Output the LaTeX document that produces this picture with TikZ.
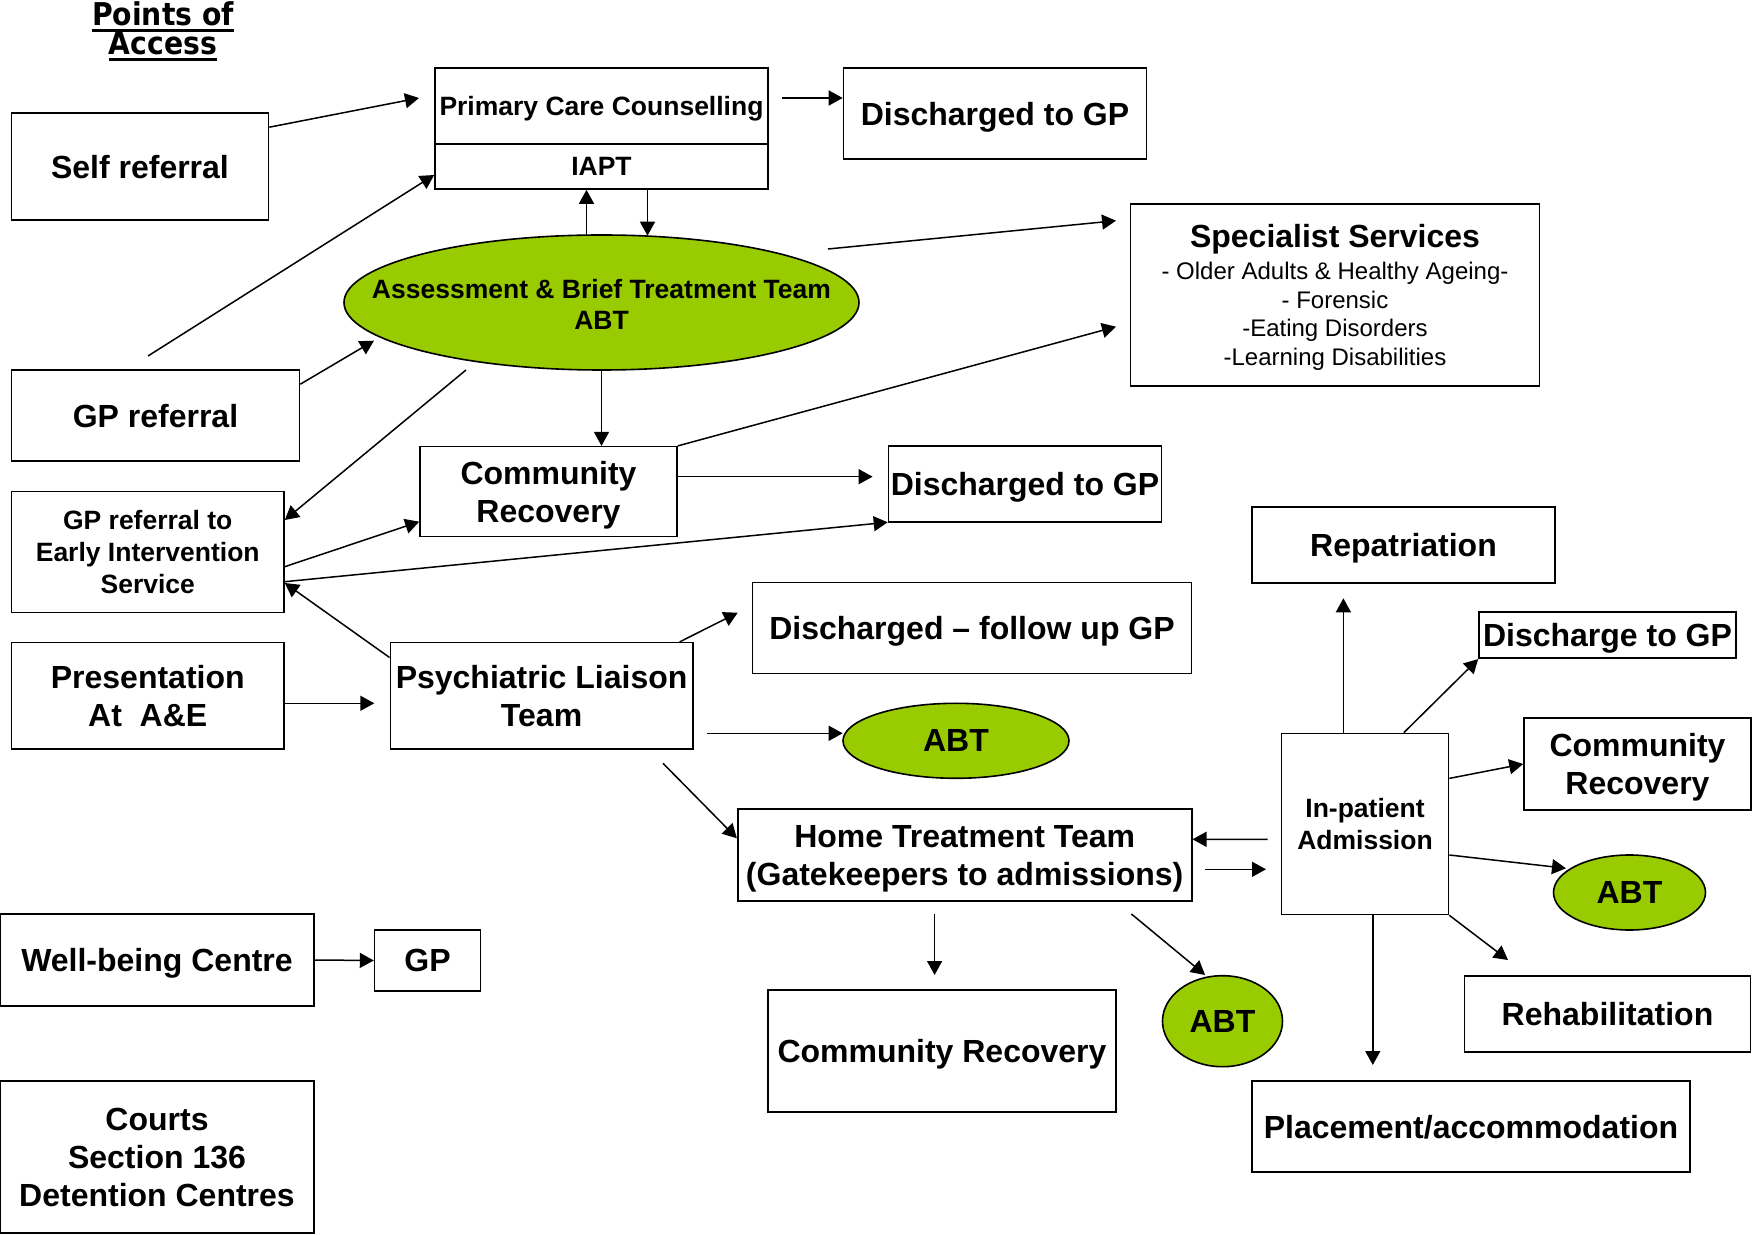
\documentclass[tikz,border=0pt]{standalone}
\usepackage{fontspec}
\setmainfont{Liberation Sans}
\newfontfamily\titlefont[FakeStretch=0.9]{DejaVu Sans}
\usetikzlibrary{arrows.meta,calc,shapes.geometric}
\definecolor{abtgreen}{RGB}{153,204,0}
\newcommand\itemfont{\mdseries\fontsize{12}{14.4}\selectfont}
\newcommand\titleul[1]{\setbox0\hbox{#1}\rlap{\rule[-3.15pt]{\wd0}{1.4pt}}\box0}
\begin{document}
\begin{tikzpicture}[x=0.5pt,y=-0.5pt,
  box/.style={draw, line width=0.8pt, align=center, inner sep=0pt, text depth=-2pt, font=\bfseries\fontsize{16}{19}\selectfont},
  sbox/.style={box, font=\bfseries\fontsize{13.25}{16}\selectfont},
  oval/.style={ellipse, draw, fill=abtgreen, line width=0.8pt, inner sep=0pt, text depth=-1.5pt, align=center, font=\bfseries\fontsize{16}{19}\selectfont},
  ttl/.style={anchor=base, inner sep=0pt, font=\titlefont\bfseries\fontsize{15.7}{15}\selectfont},
  arr/.style={-{Triangle[length=7pt,width=7.5pt]}, line width=0.75pt}]
\useasboundingbox (0,0) rectangle (1753,1235);

% title
\node[ttl] (title1) at (163,26) {\titleul{Points of}};
\node[ttl] (title2) at (163,55) {\titleul{Access}};

% nodes
\node[box, minimum width=128.5pt, minimum height=53.5pt] (selfref) at (140,166.5) {Self referral};
\node[sbox, minimum width=166.5pt, minimum height=38pt] (pcc) at (601.5,106) {Primary Care Counselling};
\node[sbox, minimum width=166.5pt, minimum height=22.5pt] (iapt) at (601.5,166.5) {IAPT};
\node[box, minimum width=151.5pt, minimum height=45.5pt] (dgp1) at (995,113.5) {Discharged to GP};
\node[oval, minimum width=257.5pt, minimum height=67.5pt,
  label={[align=center, inner sep=0pt, yshift=-1pt, font=\bfseries\fontsize{13.25}{15.7}\selectfont]center:Assessment \& Brief Treatment Team\\ABT}] (abt) at (601.5,302.5) {};
\node[box, minimum width=204.5pt, minimum height=91pt, font=\itemfont] (spec) at (1335,295) {{\bfseries\fontsize{16}{19}\selectfont Specialist Services}\\[1.6pt]- Older Adults \& Healthy Ageing-\\- Forensic\\-Eating Disorders\\-Learning Disabilities};
\node[box, minimum width=144pt, minimum height=45.5pt] (gpref) at (155.5,415.5) {GP referral};
\node[sbox, minimum width=136.25pt, minimum height=60.5pt] (eis) at (147.75,552) {GP referral to\\Early Intervention\\Service};
\node[box, minimum width=128.5pt, minimum height=45pt] (cr1) at (548.5,491.7) {Community\\Recovery};
\node[box, minimum width=136.5pt, minimum height=38pt] (dgp2) at (1025,484) {Discharged to GP};
\node[box, minimum width=151.5pt, minimum height=38pt] (rep) at (1403.5,545) {Repatriation};
\node[box, minimum width=219.5pt, minimum height=45.5pt] (dfu) at (972,628) {Discharged – follow up GP};
\node[box, minimum width=128.5pt, minimum height=23pt] (dtgp) at (1607.5,635.3) {Discharge to GP};
\node[box, minimum width=136.25pt, minimum height=53.3pt] (ae) at (147.75,696) {Presentation\\At\ \ A\&E};
\node[box, minimum width=151.25pt, minimum height=53.3pt] (plt) at (541.6,696) {Psychiatric Liaison\\Team};
\node[oval, minimum width=113pt, minimum height=37.5pt] (abt2) at (956,740.8) {ABT};
\node[box, minimum width=113.5pt, minimum height=46pt] (cr2) at (1637.5,764) {Community\\Recovery};
\node[sbox, minimum width=83.5pt, minimum height=90.5pt] (inp) at (1365,824) {In-patient\\Admission};
\node[box, minimum width=227pt, minimum height=45.75pt] (htt) at (964.7,855) {Home Treatment Team\\(Gatekeepers to admissions)};
\node[oval, minimum width=76pt, minimum height=37.5pt] (abt3) at (1629.5,892.5) {ABT};
\node[box, minimum width=157pt, minimum height=46pt] (wb) at (157,960) {Well-being Centre};
\node[box, minimum width=53pt, minimum height=30.5pt] (gp) at (427.6,960.5) {GP};
\node[box, minimum width=174pt, minimum height=61pt] (cr3) at (942,1051) {Community Recovery};
\node[oval, minimum width=60pt, minimum height=45.5pt] (abt4) at (1222.5,1021.2) {ABT};
\node[box, minimum width=143pt, minimum height=38pt] (rehab) at (1607.5,1013.7) {Rehabilitation};
\node[box, minimum width=219pt, minimum height=45.5pt] (place) at (1471,1126.7) {Placement/accommodation};
\node[box, minimum width=157pt, minimum height=76pt] (courts) at (157,1157) {Courts\\Section 136\\Detention Centres};

% free ends
\coordinate (p1) at (419,98);
\coordinate (p2) at (148,356);
\coordinate (p3) at (782,98);
\coordinate (p6a) at (828,249);
\coordinate (p6b) at (1116,220.7);
\coordinate (p7) at (374,340.7);
\coordinate (p8) at (466,370);
\coordinate (p10) at (1116,326.7);
\coordinate (p11) at (872.6,476.7);
\coordinate (p15) at (374.3,703.3);
\coordinate (p16) at (737.7,612.7);
\coordinate (p17) at (707.2,733.3);
\coordinate (p18) at (663,763.3);
\coordinate (p19) at (1267.5,839.3);
\coordinate (p20a) at (1205,869.3);
\coordinate (p20b) at (1266,869.3);
\coordinate (p21a) at (934.6,914);
\coordinate (p21b) at (934.6,975);
\coordinate (p22a) at (1131.4,914);
\coordinate (p22b) at (1205.1,975);
\coordinate (p23) at (1343.4,598.3);
\coordinate (p26) at (1566,868.3);
\coordinate (p27) at (1508,960);
\coordinate (p28) at (1372.8,1065);

% connectors
\draw[arr] ($(selfref.north east)+(0,15)$) -- (p1);
\draw[arr] (p2) -- ($(iapt.west)+(0,8.5)$);
\draw[arr] (p3) -- ($(dgp1.west)+(0,-15.5)$);
\draw[arr] ($(abt.north)+(-15,0.5)$) -- ($(iapt.south)+(-15,0)$);
\draw[arr] ($(iapt.south)+(46,0)$) -- ($(abt.north)+(46,1.5)$);
\draw[arr] (p6a) -- (p6b);
\draw[arr] ($(gpref.north east)+(0,15)$) -- (p7);
\draw[arr] (p8) -- ($(eis.east)+(0,-32)$);
\draw[arr] (abt.south) -- (abt.south |- cr1.north);
\draw[arr] (cr1.north east) -- (p10);
\draw[arr] ($(cr1.east)+(0,-15)$) -- (p11);
\draw[arr] ($(eis.east)+(0,14.7)$) -- ($(cr1.west)+(0,30)$);
\draw[arr] ($(eis.east)+(0,29.7)$) -- ($(dgp2.south west)+(0,-0.5)$);
\draw[arr] ($(plt.north west)+(0,15.6)$) -- ($(eis.east)+(0,31)$);
\draw[arr] ($(ae.east)+(0,7.3)$) -- (p15);
\draw[arr] ($(plt.north east)+(-14,0)$) -- (p16);
\draw[arr] (p17) -- ($(abt2.west)+(0.5,-7.5)$);
\draw[arr] (p18) -- ($(htt.west)+(0,-16.7)$);
\draw[arr] (p19) -- ($(htt.east)+(0,-15.7)$);
\draw[arr] (p20a) -- (p20b);
\draw[arr] (p21a) -- (p21b);
\draw[arr] (p22a) -- (p22b);
\draw[arr] ($(inp.north)+(-21.6,0)$) -- (p23);
\draw[arr] ($(inp.north)+(38.8,0)$) -- (dtgp.south west);
\draw[arr] ($(inp.north east)+(0,45.7)$) -- (cr2.west);
\draw[arr] ($(inp.east)+(0,31)$) -- (p26);
\draw[arr] (inp.south east) -- (p27);
\draw[arr] ($(inp.south)+(7.8,0)$) -- (p28);
\draw[arr] (wb.east) -- (gp.west);
\end{tikzpicture}
\end{document}
